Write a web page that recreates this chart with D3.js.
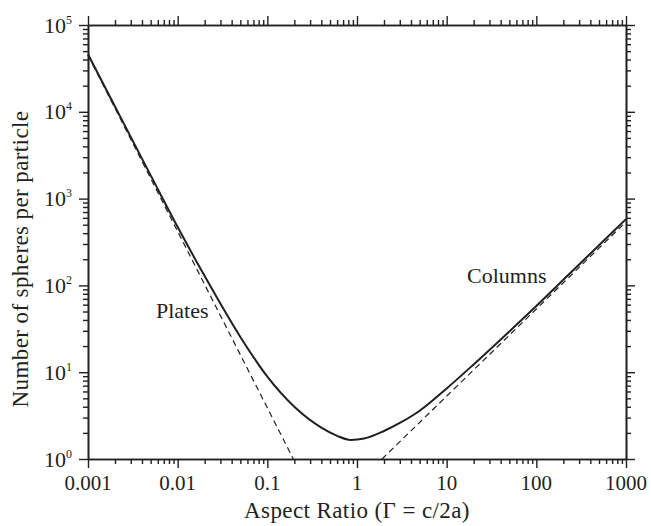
<!DOCTYPE html>
<html>
<head>
<meta charset="utf-8">
<script src="https://cdn.jsdelivr.net/npm/d3@7"></script>
<style>
  body { margin: 0; background: #fff; }
</style>
</head>
<body>
<div id="chart-area"></div>
<script>
// curve
const gammaSolid = [0.001, 0.002, 0.005, 0.01, 0.02, 0.05, 0.1, 0.2, 0.4, 0.6, 0.85, 1.2, 2, 3, 5, 10, 20, 50, 100, 200, 500, 1000]
const spheresSolid = [46000, 11500, 1850, 470, 128, 25.5, 8.9, 4.0, 2.3, 1.85, 1.66, 1.72, 2.1, 2.6, 3.6, 6.5, 12.3, 29.5, 58, 116, 290, 580]

// dashed asymptotes
const platesGamma = [0.001, 0.195]
const platesSpheres = [45000, 1]
const columnsGamma = [1.9, 1000]
const columnsSpheres = [1, 540]

const xTickValues = [0.001, 0.01, 0.1, 1, 10, 100, 1000]
const xTickLabels = ["0.001", "0.01", "0.1", "1", "10", "100", "1000"]
const yTickExps = [0, 1, 2, 3, 4, 5]

const MARGIN = { LEFT: 88, RIGHT: 25, TOP: 25, BOTTOM: 67 }
const WIDTH = 651 - MARGIN.LEFT - MARGIN.RIGHT
const HEIGHT = 526 - MARGIN.TOP - MARGIN.BOTTOM
const INK = "#231f20"
const FONT = "Liberation Serif"

const svg = d3.select("#chart-area")
    .append("svg")
    .attr("width", 651)
    .attr("height", 526)

const g = svg.append("g")
    .attr("transform", `translate(${MARGIN.LEFT}, ${MARGIN.TOP})`)

const x = d3.scaleLog().domain([0.001, 1000]).range([0, WIDTH])
const y = d3.scaleLog().domain([1, 1e5]).range([HEIGHT, 0])

const xMinor = x.ticks().filter(d => !xTickValues.includes(d))
const yMajor = yTickExps.map(e => Math.pow(10, e))
const yMinor = y.ticks().filter(d => !yMajor.includes(d))

function styleAxis(sel) {
    sel.select(".domain").attr("stroke", INK).attr("stroke-width", 1.6)
    sel.selectAll(".tick line").attr("stroke", INK).attr("stroke-width", 1.4)
    sel.selectAll(".tick text").remove()
}

// minor ticks
g.append("g").attr("transform", `translate(0,${HEIGHT})`)
    .call(d3.axisBottom(x).tickValues(xMinor).tickSize(5).tickSizeOuter(0)).call(styleAxis)
g.append("g")
    .call(d3.axisTop(x).tickValues(xMinor).tickSize(5).tickSizeOuter(0)).call(styleAxis)
g.append("g")
    .call(d3.axisLeft(y).tickValues(yMinor).tickSize(5).tickSizeOuter(0)).call(styleAxis)
g.append("g").attr("transform", `translate(${WIDTH},0)`)
    .call(d3.axisRight(y).tickValues(yMinor).tickSize(5).tickSizeOuter(0)).call(styleAxis)

// major ticks
g.append("g").attr("transform", `translate(0,${HEIGHT})`)
    .call(d3.axisBottom(x).tickValues(xTickValues).tickSize(9).tickSizeOuter(0)).call(styleAxis)
g.append("g")
    .call(d3.axisTop(x).tickValues(xTickValues).tickSize(9).tickSizeOuter(0)).call(styleAxis)
g.append("g")
    .call(d3.axisLeft(y).tickValues(yMajor).tickSize(9).tickSizeOuter(0)).call(styleAxis)
g.append("g").attr("transform", `translate(${WIDTH},0)`)
    .call(d3.axisRight(y).tickValues(yMajor).tickSize(9).tickSizeOuter(0)).call(styleAxis)

// x tick labels
g.selectAll(".xlab").data(xTickValues)
    .enter().append("text")
    .attr("class", "xlab")
    .attr("x", d => x(d))
    .attr("y", HEIGHT + 31)
    .attr("text-anchor", "middle")
    .attr("fill", INK)
    .attr("font-family", FONT)
    .style("font-size", "21px")
    .text((d, i) => xTickLabels[i])

// y tick labels 10^n
const yl = g.selectAll(".ylab").data(yTickExps)
    .enter().append("text")
    .attr("class", "ylab")
    .attr("x", -16)
    .attr("y", d => y(Math.pow(10, d)) + 7.5)
    .attr("text-anchor", "end")
    .attr("fill", INK)
    .attr("font-family", FONT)
    .style("font-size", "22px")
yl.append("tspan").text("10")
yl.append("tspan")
    .attr("dy", -9)
    .style("font-size", "12px")
    .text(d => d)

// axis titles
svg.append("text")
    .attr("x", MARGIN.LEFT + WIDTH / 2)
    .attr("y", 518)
    .attr("text-anchor", "middle")
    .attr("fill", INK)
    .attr("font-family", FONT)
    .style("font-size", "23px")
    .style("letter-spacing", "0.4px")
    .text("Aspect Ratio (Γ = c/2a)")

svg.append("text")
    .attr("transform", "translate(28, 259) rotate(-90)")
    .attr("text-anchor", "middle")
    .attr("fill", INK)
    .attr("font-family", FONT)
    .style("font-size", "23px")
    .style("letter-spacing", "0.4px")
    .text("Number of spheres per particle")

// lines
const line = d3.line()
    .x(d => x(d[0]))
    .y(d => y(d[1]))

g.append("path")
    .datum(platesGamma.map((d, i) => [d, platesSpheres[i]]))
    .attr("d", line)
    .attr("fill", "none")
    .attr("stroke", INK)
    .attr("stroke-width", 1.2)
    .attr("stroke-dasharray", "6,4")

g.append("path")
    .datum(columnsGamma.map((d, i) => [d, columnsSpheres[i]]))
    .attr("d", line)
    .attr("fill", "none")
    .attr("stroke", INK)
    .attr("stroke-width", 1.2)
    .attr("stroke-dasharray", "6,4")

g.append("path")
    .datum(gammaSolid.map((d, i) => [d, spheresSolid[i]]))
    .attr("d", line.curve(d3.curveMonotoneX))
    .attr("fill", "none")
    .attr("stroke", INK)
    .attr("stroke-width", 2)

// labels
svg.append("text")
    .attr("x", 156)
    .attr("y", 318)
    .attr("fill", INK)
    .attr("font-family", FONT)
    .style("font-size", "22px")
    .text("Plates")

svg.append("text")
    .attr("x", 467)
    .attr("y", 283)
    .attr("fill", INK)
    .attr("font-family", FONT)
    .style("font-size", "22px")
    .text("Columns")
</script>
</body>
</html>
